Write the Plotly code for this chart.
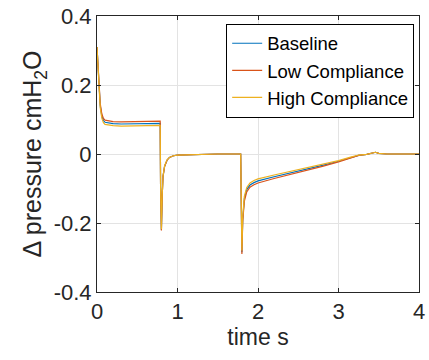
import plotly.graph_objects as go

# Sample times (s) and pressure differences (cmH2O) for each case
time_s = [0.00, 0.02, 0.04, 0.06, 0.08, 0.10, 0.15, 0.20, 0.30, 0.50, 0.70, 0.785,
          0.79, 0.80, 0.81, 0.82, 0.84, 0.87, 0.90, 0.95, 1.00, 1.20, 1.50, 1.785,
          1.79, 1.80, 1.81, 1.83, 1.86, 1.90, 1.95, 2.00, 2.20, 2.50, 2.80, 3.00,
          3.15, 3.25, 3.35, 3.42, 3.46, 3.50, 3.60, 4.00]

baseline = [0.310, 0.210, 0.140, 0.110, 0.097, 0.092, 0.089, 0.088, 0.087, 0.087, 0.088, 0.089,
            -0.100, -0.220, -0.120, -0.065, -0.035, -0.018, -0.010, -0.005, -0.003, -0.001, 0.000, 0.000,
            -0.150, -0.285, -0.190, -0.130, -0.103, -0.090, -0.083, -0.078, -0.066, -0.050, -0.033, -0.021,
            -0.010, -0.004, -0.001, 0.004, 0.005, 0.002, 0.000, 0.000]

low_compliance = [0.310, 0.215, 0.146, 0.116, 0.103, 0.098, 0.095, 0.094, 0.093, 0.093, 0.094, 0.095,
                  -0.100, -0.222, -0.122, -0.066, -0.036, -0.018, -0.010, -0.005, -0.003, -0.001, 0.000, 0.000,
                  -0.150, -0.290, -0.196, -0.137, -0.110, -0.096, -0.089, -0.084, -0.071, -0.054, -0.036, -0.023,
                  -0.011, -0.004, -0.001, 0.004, 0.005, 0.002, 0.000, 0.000]

high_compliance = [0.310, 0.205, 0.134, 0.104, 0.091, 0.086, 0.083, 0.082, 0.081, 0.081, 0.082, 0.083,
                   -0.100, -0.218, -0.118, -0.064, -0.034, -0.017, -0.010, -0.005, -0.003, -0.001, 0.000, 0.000,
                   -0.150, -0.280, -0.184, -0.123, -0.097, -0.084, -0.077, -0.072, -0.061, -0.046, -0.030, -0.019,
                   -0.009, -0.003, -0.001, 0.004, 0.005, 0.002, 0.000, 0.000]

series_names = ["Baseline", "Low Compliance", "High Compliance"]
series_values = [baseline, low_compliance, high_compliance]
series_colors = ["#0072BD", "#D95319", "#EDB120"]

x_ticks = [0, 1, 2, 3, 4]
y_ticks = [-0.4, -0.2, 0, 0.2, 0.4]
y_tick_text = ["-0.4", "-0.2", "0", "0.2", "0.4"]

FONT = "Liberation Sans, Arial, sans-serif"
INK = "#262626"

fig = go.Figure()
for name, vals, col in zip(series_names, series_values, series_colors):
    fig.add_trace(go.Scatter(x=time_s, y=vals, mode="lines", name=name,
                             line=dict(color=col, width=1.2)))

axis_common = dict(
    showline=True, linecolor=INK, linewidth=1, mirror="ticks",
    ticks="inside", ticklen=4, tickcolor=INK,
    showgrid=True, gridcolor="#e3e3e3", gridwidth=1, zeroline=False,
    tickfont=dict(family=FONT, size=22, color=INK),
    ticklabeloverflow="allow",
)

fig.update_layout(
    width=429, height=360,
    margin=dict(l=97, r=4, t=15, b=68),
    paper_bgcolor="white", plot_bgcolor="white",
    font=dict(family=FONT, color=INK),
    xaxis=dict(range=[0, 4], tickvals=x_ticks, ticktext=[str(v) for v in x_ticks],
               title=dict(text="time s", font=dict(family=FONT, size=23, color=INK), standoff=4),
               **axis_common),
    yaxis=dict(range=[-0.4, 0.4], tickvals=y_ticks, ticktext=y_tick_text,
               title=dict(text="Δ pressure cmH<sub>2</sub>O", font=dict(family=FONT, size=25, color=INK),
                          standoff=4),
               **axis_common),
    legend=dict(x=0.985, y=0.972, xanchor="right", yanchor="top",
                bgcolor="white", bordercolor="black", borderwidth=1,
                font=dict(family=FONT, size=18.5, color="black"),
                tracegroupgap=0, itemwidth=30),
    showlegend=True,
)

fig.write_html("out.html")
